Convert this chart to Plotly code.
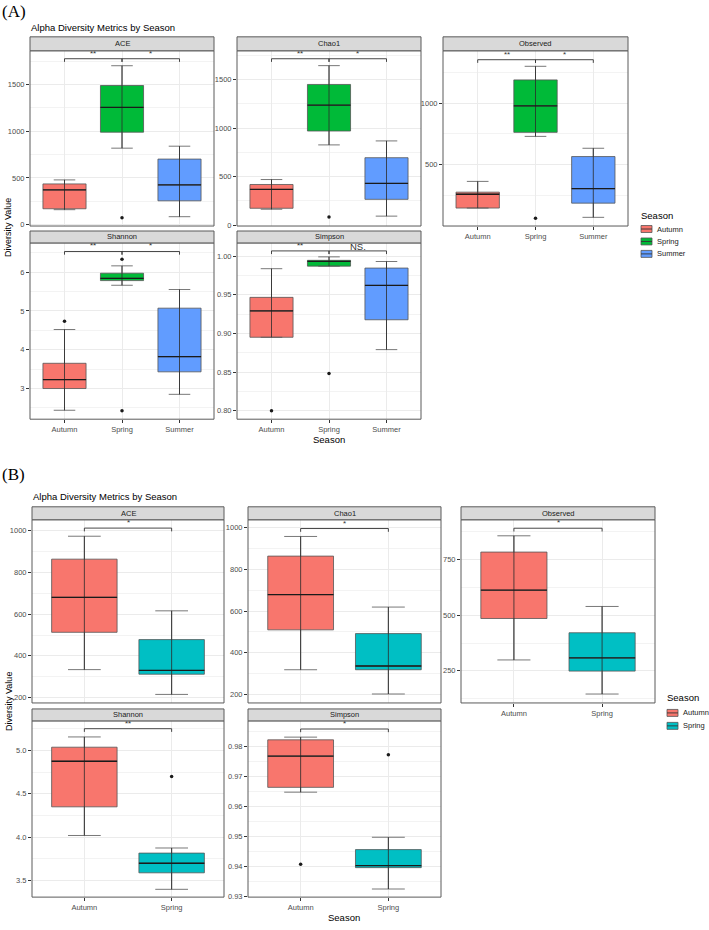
import plotly.graph_objects as go

W, H = 709, 930

SEASONS_A = ["Autumn", "Spring", "Summer"]
SEASONS_B = ["Autumn", "Spring"]
COLORS_A = ["#F8766D", "#00BA38", "#619CFF"]
COLORS_B = ["#F8766D", "#00BFC4"]

# rows: season; columns: [lower whisker, Q1, median, Q3, upper whisker]
A_ACE = [[160, 170, 372, 436, 479], [819, 990, 1255, 1490, 1702], [85, 255, 425, 702, 840]]
A_CHAO1 = [[163, 173, 367, 418, 469], [826, 969, 1235, 1449, 1643], [92, 265, 429, 694, 867]]
A_OBSERVED = [[144, 144, 257, 274, 362], [730, 763, 979, 1192, 1303], [68, 184, 303, 565, 633]]
A_SHANNON = [[2.44, 3.00, 3.23, 3.65, 4.52], [5.66, 5.78, 5.84, 5.97, 6.16], [2.85, 3.43, 3.82, 5.07, 5.55]]
A_SIMPSON = [[0.895, 0.895, 0.929, 0.9466, 0.9837], [0.987, 0.987, 0.9932, 0.9945, 0.999], [0.879, 0.9176, 0.962, 0.9845, 0.993]]

# outliers: [season index, value]
A_ACE_OUT = [[1, 74]]
A_CHAO1_OUT = [[1, 82]]
A_OBSERVED_OUT = [[1, 60]]
A_SHANNON_OUT = [[0, 4.73], [1, 6.33], [1, 2.43]]
A_SIMPSON_OUT = [[0, 0.800], [1, 0.848]]

B_ACE = [[334, 513, 681, 864, 974], [215, 312, 330, 478, 616]]
B_CHAO1 = [[319, 510, 679, 863, 957], [203, 319, 337, 492, 619]]
B_OBSERVED = [[299, 485, 612, 783, 856], [146, 249, 308, 421, 539]]
B_SHANNON = [[4.02, 4.35, 4.875, 5.037, 5.155], [3.40, 3.59, 3.70, 3.817, 3.876]]
B_SIMPSON = [[0.9647, 0.9663, 0.9767, 0.9821, 0.9830], [0.9325, 0.9396, 0.9403, 0.9456, 0.9497]]

B_ACE_OUT = []
B_CHAO1_OUT = []
B_OBSERVED_OUT = []
B_SHANNON_OUT = [[1, 4.70]]
B_SIMPSON_OUT = [[0, 0.9407], [1, 0.9771]]

# significance bracket heights and labels
A_BRACKETS = {"ACE": 1777, "Chao1": 1714, "Observed": 1357, "Shannon": 6.53, "Simpson": 1.0067}
A_SIG = {"ACE": ["**", "*"], "Chao1": ["**", "*"], "Observed": ["**", "*"],
         "Shannon": ["**", "*"], "Simpson": ["**", "NS."]}
B_BRACKETS = {"ACE": 1013, "Chao1": 995, "Observed": 890, "Shannon": 5.25, "Simpson": 0.9857}
B_SIG = {"ACE": ["*"], "Chao1": ["*"], "Observed": ["*"], "Shannon": ["**"], "Simpson": ["*"]}

# y axis ticks / ranges
A_TICKS = {"ACE": [0, 500, 1000, 1500], "Chao1": [0, 500, 1000, 1500], "Observed": [500, 1000],
           "Shannon": [3, 4, 5, 6], "Simpson": [0.80, 0.85, 0.90, 0.95, 1.00]}
A_RANGE = {"ACE": [-15, 1862], "Chao1": [-10, 1796], "Observed": [-3, 1430],
           "Shannon": [2.21, 6.75], "Simpson": [0.789, 1.017]}
B_TICKS = {"ACE": [200, 400, 600, 800, 1000], "Chao1": [200, 400, 600, 800, 1000],
           "Observed": [250, 500, 750], "Shannon": [3.5, 4.0, 4.5, 5.0],
           "Simpson": [0.93, 0.94, 0.95, 0.96, 0.97, 0.98]}
B_RANGE = {"ACE": [174, 1053], "Chao1": [160, 1037], "Observed": [106, 928],
           "Shannon": [3.31, 5.34], "Simpson": [0.9298, 0.9884]}
TICKFMT = {"A": {"Simpson": ".2f"}, "B": {"Shannon": ".1f", "Simpson": ".2f"}}

FONT = "Liberation Sans, Arial, sans-serif"
BORDER = "#5a5a5a"

fig = go.Figure()
shapes = []
annotations = []
layout = {}
counter = [0]


def px_x(p):
    return p / W


def px_y(p):
    return 1 - p / H


def ann(x, y, text, size, color="#000", xanchor="center", yanchor="middle", family=FONT, angle=0):
    annotations.append(dict(x=px_x(x), y=px_y(y), xref="paper", yref="paper", text=text,
                            showarrow=False, xanchor=xanchor, yanchor=yanchor, textangle=angle,
                            borderpad=0, font=dict(size=size, color=color, family=family)))


def add_panel(name, stats, outliers, cats, colors, ticks, yrange, bracket, sig, fmt, geom, show_x):
    counter[0] += 1
    i = counter[0]
    xr, yr = f"x{i}", f"y{i}"
    xkey = "xaxis" if i == 1 else f"xaxis{i}"
    ykey = "yaxis" if i == 1 else f"yaxis{i}"
    x0, x1, stop, ptop, pbot = geom
    n = len(cats)
    pos = list(range(n))

    step = ticks[1] - ticks[0]
    ext = [ticks[0] - step] + list(ticks) + [ticks[-1] + step]
    minors = [t + step / 2 for t in ext[:-1] if yrange[0] <= t + step / 2 <= yrange[1]]

    layout[xkey] = dict(domain=[px_x(x0), px_x(x1)], anchor=yr, range=[-0.6, n - 0.4],
                        tickvals=pos, ticktext=cats, showgrid=True, gridcolor="#EBEBEB",
                        gridwidth=1, zeroline=False, showline=False,
                        ticks="outside" if show_x else "", ticklen=3, tickcolor="#333",
                        showticklabels=show_x, tickfont=dict(size=7.5, color="#4D4D4D", family=FONT))
    layout[ykey] = dict(domain=[px_y(pbot), px_y(ptop)], anchor=xr, range=yrange,
                        tickvals=ticks, tickformat=fmt, showgrid=True, gridcolor="#EBEBEB",
                        gridwidth=1, zeroline=False, showline=False, ticks="outside",
                        ticklen=3, tickcolor="#333",
                        tickfont=dict(size=7.5, color="#4D4D4D", family=FONT),
                        minor=dict(tickvals=minors, showgrid=True, gridcolor="#F3F3F3",
                                   gridwidth=0.6, ticks=""))

    for k in range(n):
        lo, q1, med, q3, hi = stats[k]
        fig.add_trace(go.Box(x=[pos[k]], q1=[q1], median=[med], q3=[q3], lowerfence=[lo],
                             upperfence=[hi], width=0.75, fillcolor=colors[k],
                             line=dict(color="#555", width=0.8), boxpoints=False,
                             xaxis=xr, yaxis=yr, hoverinfo="skip"))
        fig.add_trace(go.Scatter(x=[pos[k], pos[k]], y=[lo, hi], mode="lines",
                                 line=dict(color="#2b2b2b", width=0.8), xaxis=xr, yaxis=yr,
                                 hoverinfo="skip"))
        fig.add_trace(go.Scatter(x=[pos[k] - 0.375, pos[k] + 0.375], y=[med, med], mode="lines",
                                 line=dict(color="#1a1a1a", width=1.3), xaxis=xr, yaxis=yr,
                                 hoverinfo="skip"))
    if outliers:
        fig.add_trace(go.Scatter(x=[pos[o[0]] for o in outliers], y=[o[1] for o in outliers],
                                 mode="markers", marker=dict(color="#1a1a1a", size=3.5),
                                 xaxis=xr, yaxis=yr, hoverinfo="skip"))

    drop = 0.018 * (yrange[1] - yrange[0])
    for j, lab in enumerate(sig):
        a, b = j, j + 1
        for (xa, ya, xb, yb) in [(a, bracket - drop, a, bracket), (a, bracket, b, bracket),
                                 (b, bracket, b, bracket - drop)]:
            shapes.append(dict(type="line", xref=xr, yref=yr, x0=xa, y0=ya, x1=xb, y1=yb,
                               line=dict(color="#333", width=0.9)))
        big = lab == "NS."
        annotations.append(dict(x=(a + b) / 2, y=bracket, xref=xr, yref=yr, text=lab,
                                showarrow=False, xanchor="center", yanchor="bottom",
                                yshift=-3 if big else -1,
                                font=dict(size=9.5 if big else 8, color="#333", family=FONT)))

    # panel border
    shapes.append(dict(type="rect", xref="paper", yref="paper", x0=px_x(x0), x1=px_x(x1),
                       y0=px_y(pbot), y1=px_y(ptop), line=dict(color=BORDER, width=1),
                       fillcolor="rgba(0,0,0,0)", layer="above"))
    # strip
    shapes.append(dict(type="rect", xref="paper", yref="paper", x0=px_x(x0), x1=px_x(x1),
                       y0=px_y(ptop), y1=px_y(stop), line=dict(color=BORDER, width=1),
                       fillcolor="#D9D9D9", layer="above"))
    ann((x0 + x1) / 2, (stop + ptop) / 2, name, 7.5, color="#1A1A1A")


def add_legend(x, ytitle, ys, labels, colors):
    ann(x, ytitle, "Season", 9.5, xanchor="left")
    for y, lab, c in zip(ys, labels, colors):
        shapes.append(dict(type="rect", xref="paper", yref="paper", x0=px_x(x + 1), x1=px_x(x + 12),
                           y0=px_y(y + 3.5), y1=px_y(y - 3.5), fillcolor=c,
                           line=dict(color="#555", width=0.8)))
        shapes.append(dict(type="line", xref="paper", yref="paper", x0=px_x(x + 1), x1=px_x(x + 12),
                           y0=px_y(y), y1=px_y(y), line=dict(color="#333", width=0.9)))
        ann(x + 16, y, lab, 7.5, color="#1A1A1A", xanchor="left")


A_COLS = [(30, 214), (237, 421), (443, 628)]
A_ROWS = [(37, 51, 227), (232, 244, 421)]
B_COLS = [(32, 224), (248, 441), (461, 655)]
B_ROWS = [(509, 522, 706), (712, 724, 901)]

METRICS = ["ACE", "Chao1", "Observed", "Shannon", "Simpson"]
A_DATA = {"ACE": (A_ACE, A_ACE_OUT), "Chao1": (A_CHAO1, A_CHAO1_OUT),
          "Observed": (A_OBSERVED, A_OBSERVED_OUT), "Shannon": (A_SHANNON, A_SHANNON_OUT),
          "Simpson": (A_SIMPSON, A_SIMPSON_OUT)}
B_DATA = {"ACE": (B_ACE, B_ACE_OUT), "Chao1": (B_CHAO1, B_CHAO1_OUT),
          "Observed": (B_OBSERVED, B_OBSERVED_OUT), "Shannon": (B_SHANNON, B_SHANNON_OUT),
          "Simpson": (B_SIMPSON, B_SIMPSON_OUT)}

for part, data, cats, cols_c, ticks, ranges, brk, sig, COLS, ROWS in [
    ("A", A_DATA, SEASONS_A, COLORS_A, A_TICKS, A_RANGE, A_BRACKETS, A_SIG, A_COLS, A_ROWS),
    ("B", B_DATA, SEASONS_B, COLORS_B, B_TICKS, B_RANGE, B_BRACKETS, B_SIG, B_COLS, B_ROWS),
]:
    for m_i, m in enumerate(METRICS):
        r, c = divmod(m_i, 3)
        x0, x1 = COLS[c]
        stop, ptop, pbot = ROWS[r]
        show_x = (r == 1) or (c == 2)
        stats, outs = data[m]
        add_panel(m, stats, outs, cats, cols_c, ticks[m], ranges[m], brk[m], sig[m],
                  TICKFMT[part].get(m, ""), (x0, x1, stop, ptop, pbot), show_x)

# titles and labels
ann(1, 12, "(A)", 17, xanchor="left", family="Liberation Serif, Times New Roman, serif")
ann(30, 28, "Alpha Diversity Metrics by Season", 9.5, xanchor="left")
ann(8, 229, "Diversity Value", 9, angle=-90)
ann(329, 441, "Season", 9.5)
add_legend(640, 216, [230, 242.5, 255], SEASONS_A, COLORS_A)

ann(1, 477, "(B)", 17, xanchor="left", family="Liberation Serif, Times New Roman, serif")
ann(32, 499, "Alpha Diversity Metrics by Season", 9.5, xanchor="left")
ann(9, 705, "Diversity Value", 9, angle=-90)
ann(344, 921, "Season", 9.5)
add_legend(666, 701, [716, 729], SEASONS_B, COLORS_B)

fig.update_layout(width=W, height=H, margin=dict(l=0, r=0, t=0, b=0),
                  plot_bgcolor="white", paper_bgcolor="white", showlegend=False,
                  font=dict(family=FONT), shapes=shapes, annotations=annotations, **layout)

fig.write_html("out.html", config={"displayModeBar": False},
               post_script="document.body.style.margin='0';document.body.style.overflow='hidden';")
